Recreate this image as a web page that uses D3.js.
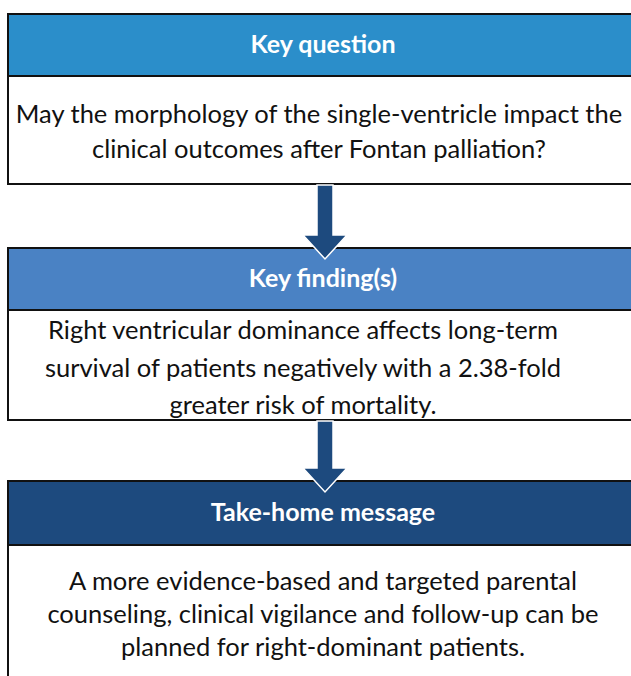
<!DOCTYPE html>
<html><head><meta charset="utf-8">
<script src="https://cdn.jsdelivr.net/npm/d3@7"></script>
<style>html,body{margin:0;padding:0;background:#fff;}</style>
</head><body>
<svg id="c" width="631" height="676"></svg>
<script>
const titles = ["Key question", "Key finding(s)", "Take-home message"];
const headerColors = ["#2B8ECA", "#4A82C4", "#1D4A7E"];
const bodies = [
  ["May the morphology of the single-ventricle impact the", "clinical outcomes after Fontan palliation?"],
  ["Right ventricular dominance affects long-term", "survival of patients negatively with a 2.38-fold", "greater risk of mortality."],
  ["A more evidence-based and targeted parental", "counseling, clinical vigilance and follow-up can be", "planned for right-dominant patients."]
];
const arrowColor = "#1D4A7E";

const svg = d3.select("#c");
const font = "Lato, 'Open Sans', sans-serif";
// layout
const L = 8, R = 642;
const boxes = [
  {top: 14, hb: 76, bottom: 184, cx: 319},
  {top: 248, hb: 310, bottom: 420, cx: 303},
  {top: 481, hb: 545, bottom: 700, cx: 323}
];
const lineGap = [35, 37.5, 33];
const firstLine = [123, 339, 590];

boxes.forEach((b, i) => {
  const g = svg.append("g");
  g.append("rect").attr("x", L).attr("y", b.top).attr("width", R - L).attr("height", b.hb - b.top)
    .attr("fill", headerColors[i]).attr("stroke", "#111").attr("stroke-width", 2);
  g.append("rect").attr("x", L).attr("y", b.hb).attr("width", R - L).attr("height", b.bottom - b.hb)
    .attr("fill", "#fff").attr("stroke", "#111").attr("stroke-width", 2);
  g.append("text").attr("x", 323).attr("y", (b.top + b.hb) / 2 + 8)
    .attr("text-anchor", "middle").attr("fill", "#fff").attr("font-family", font)
    .attr("font-weight", "bold").attr("font-size", 25).text(titles[i]);
  g.selectAll("text.body").data(bodies[i]).join("text").attr("class", "body")
    .attr("x", b.cx).attr("y", (d, j) => firstLine[i] + j * lineGap[i])
    .attr("text-anchor", "middle").attr("fill", "#111").attr("font-family", font)
    .attr("font-size", 25.5).text(d => d);
});

// arrows
function arrow(y0, y1) {
  const cx = 325, sw = 8, hw = 22, hl = 24;
  const p = `M${cx - sw},${y0} L${cx + sw},${y0} L${cx + sw},${y1 - hl} L${cx + hw},${y1 - hl} L${cx},${y1} L${cx - hw},${y1 - hl} L${cx - sw},${y1 - hl} Z`;
  svg.append("path").attr("d", p).attr("fill", arrowColor).attr("stroke", "#fff").attr("stroke-width", 1.5);
}
arrow(185, 259);
arrow(421, 492);
</script>
</body></html>
